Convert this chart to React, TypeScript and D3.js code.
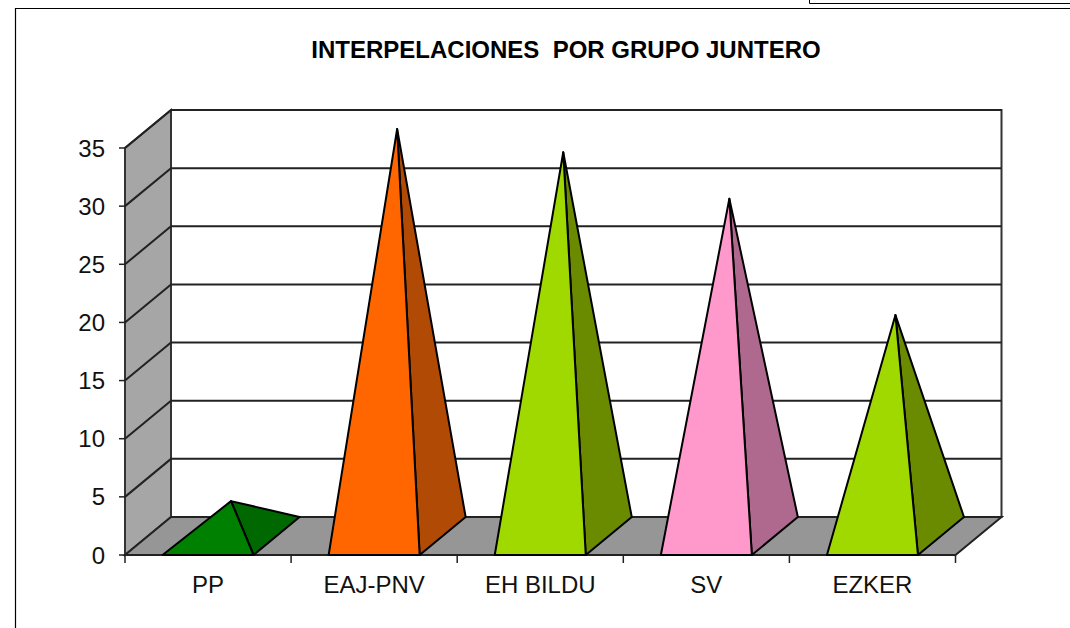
import React from "react";
import * as d3 from "d3";

const categories = ["PP", "EAJ-PNV", "EH BILDU", "SV", "EZKER"];
const values = [3, 35, 33, 29, 19];
const frontColors = ["#008000", "#FF6600", "#A0D900", "#FF99CC", "#A0D900"];
const sideColors = ["#006800", "#B04A04", "#6A8B00", "#B0698E", "#6A8B00"];
const yTicks = [0, 5, 10, 15, 20, 25, 30, 35];
const title = "INTERPELACIONES  POR GRUPO JUNTERO";

const W = 1070, H = 628;
const depthX = 46, depthY = -38;
const xOuter = d3.scaleLinear().domain([0, categories.length]).range([125, 955.5]);
const y = d3.scaleLinear().domain([0, 35]).range([555, 148]);
const pts = (p: number[][]) => p.map((q) => q.join(",")).join(" ");
const font = "'Liberation Sans', Arial, sans-serif";

export default function App() {
  const x0 = xOuter(0), x1 = xOuter(categories.length), y0 = y(0), yT = y(35);
  const halfBase = 45.5;
  return (
    <svg width={W} height={H} style={{ position: "absolute", left: 0, top: 0, fontFamily: font }}>
      <rect width={W} height={H} fill="#fff" />
      <path d={`M15.5 ${H}V8.5H${W}`} fill="none" stroke="#000" strokeWidth={1.2} />
      <path d={`M809.5 0V3.5H${W}`} fill="none" stroke="#000" strokeWidth={1} />
      <text x={566} y={58} textAnchor="middle" fontSize={24} fontWeight={700} fill="#000" style={{ whiteSpace: "pre" }}>{title}</text>

      <polygon points={pts([[x0 + depthX, yT + depthY], [x1 + depthX, yT + depthY], [x1 + depthX, y0 + depthY], [x0 + depthX, y0 + depthY]])} fill="#fff" stroke="#333" strokeWidth={2} />
      <polygon points={pts([[x0, y0], [x0 + depthX, y0 + depthY], [x0 + depthX, yT + depthY], [x0, yT]])} fill="#A6A6A6" stroke="#333" strokeWidth={2} />
      <polygon points={pts([[x0, y0], [x1, y0], [x1 + depthX, y0 + depthY], [x0 + depthX, y0 + depthY]])} fill="#969696" stroke="#222" strokeWidth={2} />

      {yTicks.map((t) => (
        <g key={t}>
          {t > 0 && (
            <path d={`M${x0} ${y(t)}L${x0 + depthX} ${y(t) + depthY}H${x1 + depthX}`} fill="none" stroke="#222" strokeWidth={2} />
          )}
          <line x1={x0 - 6} x2={x0} y1={y(t)} y2={y(t)} stroke="#222" strokeWidth={1.5} />
          <text x={105} y={y(t) + 8.5} textAnchor="end" fontSize={24} fill="#111">{t}</text>
        </g>
      ))}

      {d3.range(categories.length + 1).map((i) => (
        <line key={i} x1={xOuter(i)} x2={xOuter(i)} y1={y0} y2={y0 + 8} stroke="#222" strokeWidth={1.5} />
      ))}
      {categories.map((c, i) => (
        <text key={c} x={xOuter(i + 0.5)} y={593} textAnchor="middle" fontSize={24} fill="#111">{c}</text>
      ))}

      {categories.map((c, i) => {
        const cx = xOuter(i + 0.5);
        const fl = [cx - halfBase, y0], fr = [cx + halfBase, y0];
        const br = [cx + halfBase + depthX, y0 + depthY];
        const apex = [cx + depthX / 2, y(values[i]) + depthY / 2];
        return (
          <g key={c} stroke="#000" strokeWidth={2} strokeLinejoin="round">
            <polygon points={pts([fr, br, apex])} fill={sideColors[i]} />
            <polygon points={pts([fl, fr, apex])} fill={frontColors[i]} />
          </g>
        );
      })}
    </svg>
  );
}
